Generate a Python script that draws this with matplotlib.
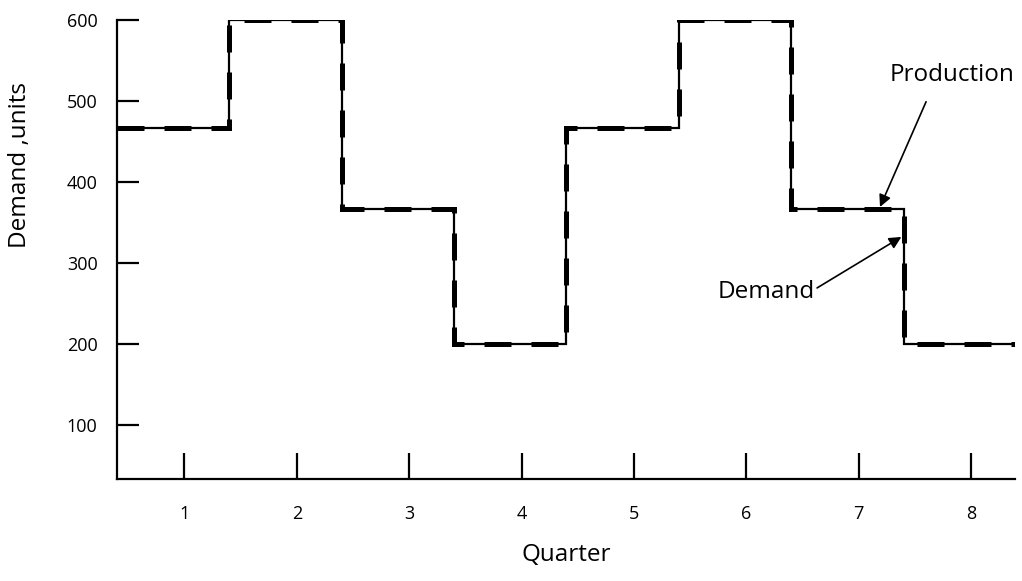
import numpy as np
import matplotlib.pyplot as plt

plt.rcParams['font.family'] = ['Open Sans', 'DejaVu Sans']

# quarterly demand and production (units)
quarters = [1, 2, 3, 4, 5, 6, 7, 8]
demand = [467, 600, 367, 200, 467, 600, 367, 200]
production = [467, 600, 367, 200, 467, 600, 367, 200]
y_ticks = [100, 200, 300, 400, 500, 600]

q = np.array(quarters)
edges = np.append(q - 0.6, q[-1] + 0.4)

fig = plt.figure(figsize=(10.22, 5.81), dpi=100)
ax = fig.add_axes([0.1145, 0.1756, 0.8785, 0.79])

ax.stairs(demand, edges, color='black', lw=1.6, baseline=None)
ax.stairs(production, edges, color='black', lw=3.6, baseline=None,
          linestyle=(0, (5.4, 4)))

ax.set_xlim(edges[0], edges[-1] - 0.01)
ax.set_ylim(33, 600)

ax.set_xticks(quarters)
ax.set_yticks(y_ticks)
ax.tick_params(axis='y', direction='in', length=16, width=1.6, pad=14, labelsize=13)
ax.tick_params(axis='x', direction='in', length=19, width=1.6, pad=19, labelsize=13)

for s in ['top', 'right']:
    ax.spines[s].set_visible(False)
for s in ['left', 'bottom']:
    ax.spines[s].set_linewidth(1.6)

ax.set_xlabel('Quarter', fontsize=17.5, labelpad=14)
ax.set_ylabel('Demand ,units', fontsize=17.5, va='center')
ax.yaxis.set_label_coords(-0.108, 0.684)

ax.text(7.83, 532, 'Production', fontsize=17.5, ha='center', va='center')
ax.annotate('', xy=(7.19, 369), xytext=(7.60, 499),
            arrowprops=dict(arrowstyle='-|>', color='black', lw=1.2,
                            mutation_scale=18, shrinkA=0, shrinkB=0))
ax.text(6.18, 264, 'Demand', fontsize=17.5, ha='center', va='center')
ax.annotate('', xy=(7.38, 332), xytext=(6.63, 269),
            arrowprops=dict(arrowstyle='-|>', color='black', lw=1.2,
                            mutation_scale=18, shrinkA=0, shrinkB=0))

fig.savefig('out.png', dpi=100)
